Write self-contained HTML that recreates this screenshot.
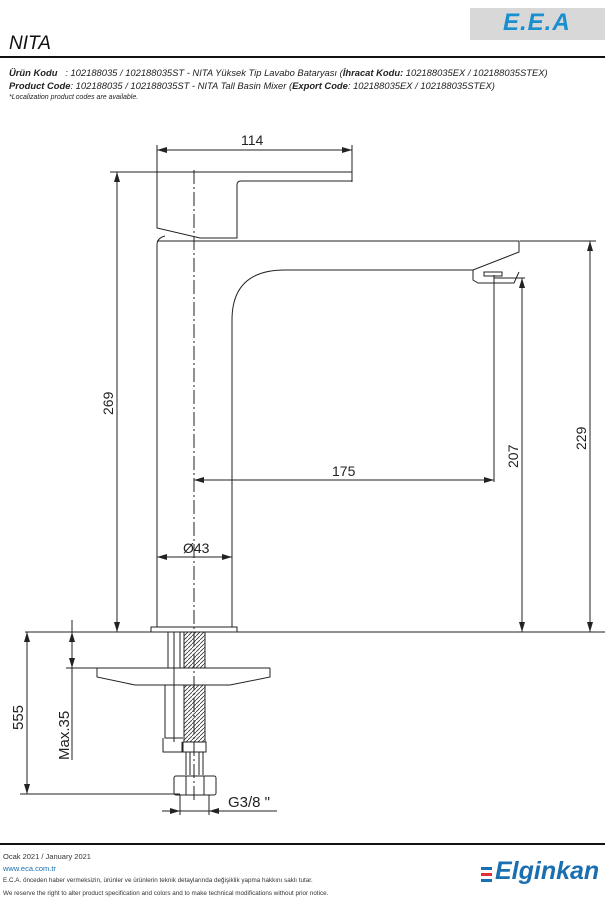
<!DOCTYPE html><html><head><meta charset="utf-8"><style>
body{margin:0;width:605px;height:900px;background:#fff;overflow:hidden;font-family:"Liberation Sans",sans-serif;position:relative}
.t{position:absolute;white-space:nowrap;font-style:italic;color:#222}
</style></head><body>
<div style="position:absolute;left:470px;top:8px;width:135px;height:32px;background:#d8d8d8"></div>
<div class="t" style="left:503px;top:9px;font-size:24px;font-weight:bold;color:#1a8fd0;letter-spacing:1px">E.E.A</div>
<div class="t" style="left:9px;top:33px;font-size:19px;color:#111">NITA</div>
<div style="position:absolute;left:0;top:56px;width:605px;height:2px;background:#111"></div>
<div class="t" style="left:9px;top:67px;font-size:9.4px"><b>Ürün Kodu</b> &nbsp;&nbsp;: 102188035 / 102188035ST - NITA Yüksek Tip Lavabo Bataryası (<b>İhracat Kodu:</b> 102188035EX / 102188035STEX)</div>
<div class="t" style="left:9px;top:80px;font-size:9.4px"><b>Product Code</b>: 102188035 / 102188035ST - NITA Tall Basin Mixer (<b>Export Code</b>: 102188035EX / 102188035STEX)</div>
<div class="t" style="left:9px;top:94px;font-size:7px">*Localization product codes are available.</div>
<svg width="605" height="900" style="position:absolute;left:0;top:0" fill="none" stroke="#222" stroke-width="1">
<defs><marker id="a" markerWidth="10" markerHeight="6" refX="10" refY="3" orient="auto-start-reverse"><path d="M0,0L10,3L0,6z" fill="#222" stroke="none"/></marker>
<pattern id="h" width="4" height="4" patternUnits="userSpaceOnUse"><path d="M0,4L4,0" stroke="#333" stroke-width="0.8"/></pattern></defs>
<line x1="157" y1="150" x2="352" y2="150" marker-start="url(#a)" marker-end="url(#a)"/>
<line x1="157" y1="145" x2="157" y2="172"/><line x1="352" y1="145" x2="352" y2="182"/>
<line x1="110" y1="172" x2="352" y2="172"/>
<line x1="117" y1="172" x2="117" y2="632" marker-start="url(#a)" marker-end="url(#a)"/>
<line x1="520" y1="241" x2="596" y2="241"/>
<line x1="590" y1="241" x2="590" y2="632" marker-start="url(#a)" marker-end="url(#a)"/>
<line x1="494" y1="278" x2="525" y2="278"/>
<line x1="522" y1="278" x2="522" y2="632" marker-start="url(#a)" marker-end="url(#a)"/>
<line x1="494" y1="275" x2="494" y2="482"/>
<line x1="194" y1="480" x2="494" y2="480" marker-start="url(#a)" marker-end="url(#a)"/>
<line x1="157" y1="557" x2="232" y2="557" marker-start="url(#a)" marker-end="url(#a)"/>
<line x1="194" y1="170" x2="194" y2="800" stroke-dasharray="14,3,2,3"/>
<path d="M157,172V228L200,238H237V185Q237,181 241,181H352V172"/>
<path d="M157,241H519V252L473,270H285Q232,270 232,320V627"/>
<path d="M165,236Q157,238 157,245V627"/>
<path d="M473,270V280L478,283H514L519,272" /><rect x="484" y="272" width="18" height="4"/>
<path d="M151,632V627H237V632"/>
<line x1="25" y1="632" x2="605" y2="632"/>
<line x1="27" y1="632" x2="27" y2="794" marker-start="url(#a)" marker-end="url(#a)"/>
<line x1="20" y1="794" x2="180" y2="794"/>
<line x1="72" y1="620" x2="72" y2="760"/>
<line x1="72" y1="632" x2="72" y2="668" marker-start="url(#a)" marker-end="url(#a)"/>
<line x1="66" y1="668" x2="270" y2="668"/>
<path d="M97,668V677L135,685H230L270,677V668"/>
<rect x="184" y="632" width="21" height="36" fill="url(#h)"/>
<rect x="184" y="685" width="21" height="57" fill="url(#h)"/>
<rect x="168" y="632" width="12" height="36"/>
<line x1="174" y1="632" x2="174" y2="742"/>
<path d="M165,685V738H183M163,738V752H182V742"/>
<rect x="183" y="742" width="23" height="10"/>
<path d="M186,752V775M190,752V775M199,752V775M203,752V775"/>
<rect x="174" y="776" width="42" height="19" rx="2"/>
<path d="M186,776V795M204,776V795"/>
<line x1="180" y1="795" x2="180" y2="815"/><line x1="209" y1="795" x2="209" y2="815"/>
<line x1="162" y1="811" x2="277" y2="811"/>
<line x1="170" y1="811" x2="180" y2="811" marker-end="url(#a)"/>
<line x1="219" y1="811" x2="209" y2="811" marker-end="url(#a)"/>
<g fill="#222" stroke="none" font-family="Liberation Sans,sans-serif" font-size="14">
<text x="241" y="145">114</text><text x="332" y="476">175</text><text x="183" y="553">Ø43</text>
<text transform="translate(113,415) rotate(-90)">269</text>
<text transform="translate(586,450) rotate(-90)">229</text>
<text transform="translate(518,468) rotate(-90)">207</text>
<text transform="translate(23,730) rotate(-90)" font-size="15">555</text>
<text transform="translate(69,760) rotate(-90)" font-size="15">Max.35</text>
<text x="228" y="807" font-size="15">G3/8 "</text>
</g></svg>
<div style="position:absolute;left:0;top:843px;width:605px;height:2px;background:#111"></div>
<div style="position:absolute;left:3px;top:851px;font-size:7.5px;line-height:11.5px;color:#333">Ocak 2021 / January 2021<br><span style="color:#1a6fb0">www.eca.com.tr</span><br><span style="font-size:6.3px">E.C.A. önceden haber vermeksizin, ürünler ve ürünlerin teknik detaylarında değişiklik yapma hakkını saklı tutar.</span><br><span style="font-size:6.3px">We reserve the right to alter product specification and colors and to make technical modifications without prior notice.</span></div>
<div style="position:absolute;left:481px;top:867px;width:11px;height:3px;background:#1a6fb0;box-shadow:0 6px 0 #e03030,0 12px 0 #1a6fb0"></div>
<div class="t" style="left:495px;top:857px;font-size:25px;font-weight:bold;color:#1a6fb0">Elginkan</div>
</body></html>
